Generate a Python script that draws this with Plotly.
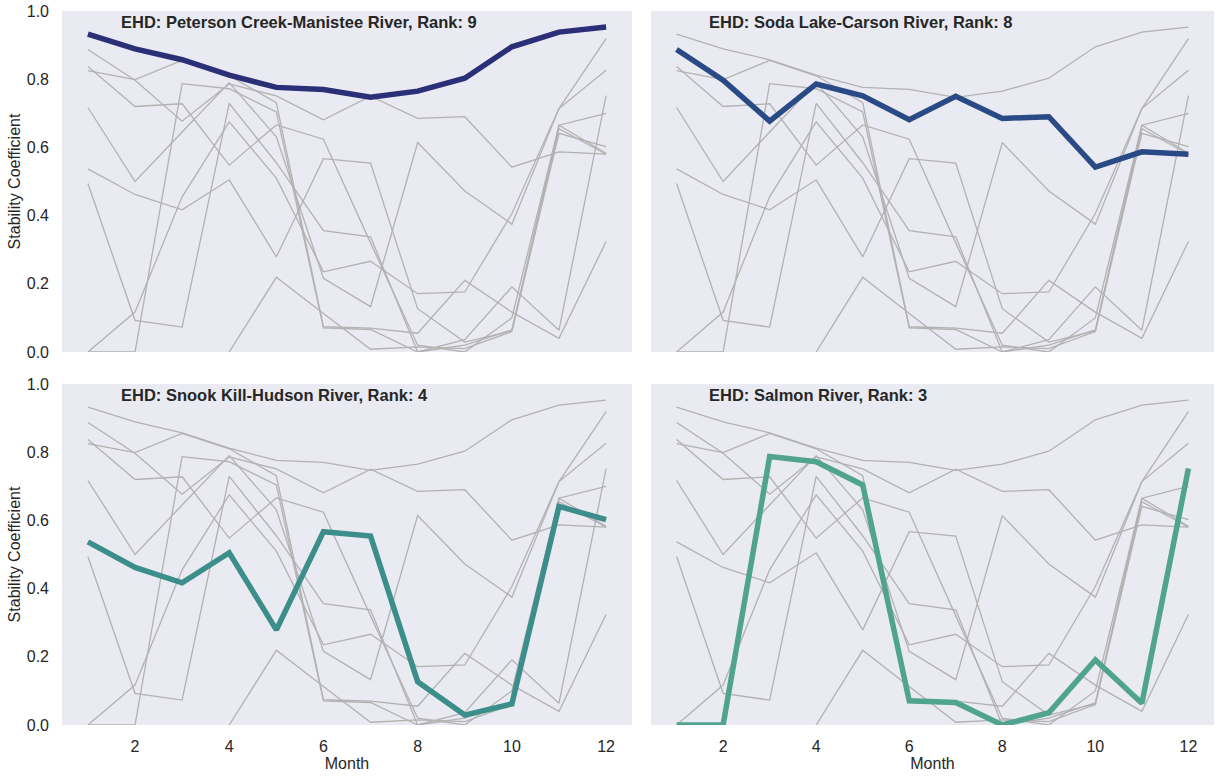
import plotly.graph_objects as go

months = list(range(1, 13))

# Highlighted rivers
peterson = [0.932, 0.889, 0.857, 0.812, 0.776, 0.770, 0.747, 0.765, 0.803, 0.895, 0.938, 0.953]
soda = [0.887, 0.797, 0.677, 0.786, 0.751, 0.681, 0.750, 0.685, 0.690, 0.542, 0.587, 0.580]
snook = [0.537, 0.462, 0.417, 0.505, 0.279, 0.567, 0.554, 0.127, 0.029, 0.062, 0.641, 0.602]
salmon = [0.0, 0.0, 0.787, 0.772, 0.704, 0.071, 0.066, 0.0, 0.036, 0.191, 0.064, 0.752]

# Other rivers (background only)
river_a = [0.825, 0.799, 0.855, 0.810, 0.731, 0.074, 0.070, 0.055, 0.210, 0.117, 0.040, 0.324]
river_b = [0.837, 0.720, 0.728, 0.548, 0.666, 0.624, 0.320, 0.020, 0.000, 0.100, 0.665, 0.700]
river_c = [0.717, 0.500, 0.645, 0.790, 0.631, 0.216, 0.133, 0.614, 0.472, 0.375, 0.714, 0.826]
river_d = [0.494, 0.093, 0.073, 0.729, 0.555, 0.356, 0.338, 0.000, 0.020, 0.065, 0.665, 0.583]
river_e = [0.000, 0.117, 0.455, 0.675, 0.510, 0.235, 0.266, 0.171, 0.176, 0.406, 0.714, 0.919]
river_f = [None, None, None, 0.000, 0.219, 0.113, 0.008, 0.015, 0.010, 0.060, 0.655, 0.580]

all_series = [peterson, soda, snook, salmon, river_a, river_b, river_c, river_d, river_e, river_f]

panels = [
    ("Peterson Creek-Manistee River", 9, peterson, "#2b2f77"),
    ("Soda Lake-Carson River", 8, soda, "#2a4a85"),
    ("Snook Kill-Hudson River", 4, snook, "#3b8e8a"),
    ("Salmon River", 3, salmon, "#4fa38f"),
]

W, H = 1215, 776
xdom = [[62 / W, 632 / W], [651 / W, 1214 / W]]
ydom = [[1 - 352 / H, 1 - 11 / H], [1 - 725 / H, 1 - 384 / H]]

fig = go.Figure()
font_family = "Liberation Sans, Arial, sans-serif"
text_color = "#262626"

for i, (name, rank, highlight, color) in enumerate(panels):
    row, col = divmod(i, 2)
    idx = i + 1
    xa = "x" if idx == 1 else f"x{idx}"
    ya = "y" if idx == 1 else f"y{idx}"
    for s in all_series:
        fig.add_trace(go.Scatter(x=months, y=s, mode="lines", xaxis=xa, yaxis=ya,
                                 line=dict(color="#b2b2b2", width=1.3),
                                 showlegend=False, hoverinfo="skip"))
    fig.add_trace(go.Scatter(x=months, y=highlight, mode="lines", xaxis=xa, yaxis=ya,
                             line=dict(color=color, width=5.5),
                             showlegend=False, name=name))
    xkey = "xaxis" if idx == 1 else f"xaxis{idx}"
    ykey = "yaxis" if idx == 1 else f"yaxis{idx}"
    fig.layout[xkey] = dict(
        domain=xdom[col], anchor=ya, range=[0.45, 12.55], automargin=False,
        showgrid=False, zeroline=False, showline=False, ticks="",
        tickvals=[2, 4, 6, 8, 10, 12], showticklabels=(row == 1),
        ticklabelstandoff=10,
        tickfont=dict(size=16, color=text_color, family=font_family),
        title=dict(text="Month" if row == 1 else "",
                   font=dict(size=16, color=text_color, family=font_family),
                   standoff=2),
    )
    fig.layout[ykey] = dict(
        domain=ydom[row], anchor=xa, range=[0, 1], automargin=False,
        showgrid=False, zeroline=False, showline=False, ticks="",
        tickvals=[0, 0.2, 0.4, 0.6, 0.8, 1.0], tickformat=".1f",
        showticklabels=(col == 0), ticklabelstandoff=12,
        tickfont=dict(size=16, color=text_color, family=font_family),
        title=dict(text="Stability Coefficient" if col == 0 else "",
                   font=dict(size=16, color=text_color, family=font_family),
                   standoff=2),
    )
    fig.add_annotation(x=0.1, y=1.0, xref=f"{xa} domain", yref=f"{ya} domain",
                       xanchor="left", yanchor="top", showarrow=False,
                       text=f"<b>EHD: {name}, Rank: {rank}</b>",
                       font=dict(size=16.5, color=text_color, family=font_family))

fig.update_layout(
    width=W, height=H,
    margin=dict(l=0, r=0, t=0, b=0),
    plot_bgcolor="#EAEAF2", paper_bgcolor="white",
    font=dict(family=font_family, color=text_color),
)

fig.write_html("out.html")
